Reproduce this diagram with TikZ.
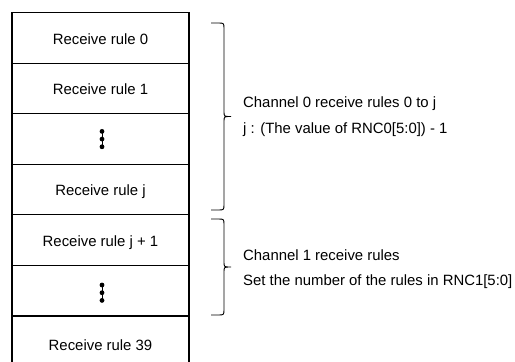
\documentclass[tikz,border=0pt]{standalone}
\usepackage{fontspec}
\setmainfont{Liberation Sans}
\begin{document}
\begin{tikzpicture}[x=1pt,y=-1pt,
  rowbox/.style={draw=black,line width=1.1pt,rectangle,minimum width=177pt,minimum height=50.55pt,
    inner sep=0pt,text height=12.4pt,text depth=0pt,font=\fontsize{14.9}{17}\selectfont},
  sidetext/.style={anchor=base west,inner sep=0pt,font=\fontsize{14.9}{17}\selectfont},
  bracepath/.style={draw=black,line width=0.9pt},
  dotmark/.style={fill=black}]
\useasboundingbox (0,0) rectangle (515,362);
\node[rowbox] (r0) at (100.5,37.97) {Receive rule 0};
\node[rowbox] (r1) at (100.5,88.52) {Receive rule 1};
\node[rowbox] (r2) at (100.5,139.07) {};
\node[rowbox] (r3) at (100.5,189.62) {Receive rule j};
\node[rowbox] (r4) at (100.5,240.17) {Receive rule j + 1};
\node[rowbox] (r5) at (100.5,290.72) {};
\node[rowbox,minimum height=57pt] (r6) at (100.5,344.5) {Receive rule 39};
% vertical ellipses
\coordinate (d2) at ([xshift=1.5pt]r2.center);
\coordinate (d5) at ([xshift=1.5pt,yshift=-2pt]r5.center);
\foreach \r in {d2,d5}{
  \draw[line width=0.9pt] ([yshift=7.7pt]\r) -- ([yshift=-7.7pt]\r);
  \foreach \d in {-7.7,0,7.7}
    \fill[dotmark] ([yshift=\d pt]\r) circle (2.4pt);
}
% braces
\draw[bracepath] (211,23) -- (218,23) .. controls (224,23) .. (224,29) -- (224,111.5)
  .. controls (224,116.5) .. (231,116.5) .. controls (224,116.5) .. (224,121.5)
  -- (224,204) .. controls (224,210) .. (218,210) -- (211,210);
\draw[bracepath] (211,219) -- (218,219) .. controls (224,219) .. (224,225) -- (224,262)
  .. controls (224,267) .. (231,267) .. controls (224,267) .. (224,272)
  -- (224,309) .. controls (224,315) .. (218,315) -- (211,315);
\node[sidetext] (c0a) at (243,107.3) {Channel 0 receive rules 0 to j};
\node[sidetext] (c0b) at (243,133) {j : (The value of RNC0[5:0]) - 1};
\node[sidetext] (c1a) at (243,260) {Channel 1 receive rules};
\node[sidetext] (c1b) at (243,285) {Set the number of the rules in RNC1[5:0]};
\end{tikzpicture}
\end{document}
